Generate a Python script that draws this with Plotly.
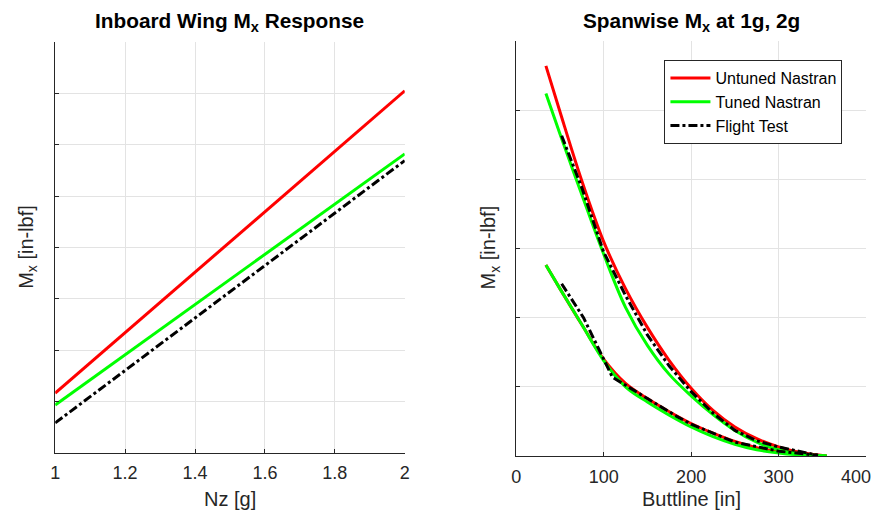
import plotly.graph_objects as go

# ---------------- data ----------------
nz = [1.0, 2.0]
mx_untuned_nz = [1.16, 7.05]
mx_tuned_nz = [0.93, 5.82]
mx_flight_nz = [0.58, 5.69]

bl_model = [34, 50, 75, 100, 125, 150, 175, 200, 225, 250, 275, 300, 325, 355]
mx_untuned_2g = [5.64, 4.98, 3.98, 3.10, 2.42, 1.86, 1.38, 0.98, 0.66, 0.42, 0.25, 0.13, 0.05, 0.0]
mx_tuned_2g = [5.24, 4.66, 3.78, 2.92, 2.15, 1.60, 1.18, 0.87, 0.60, 0.37, 0.20, 0.09, 0.03, 0.0]
mx_untuned_1g = [2.76, 2.42, 1.90, 1.40, 1.05, 0.83, 0.64, 0.47, 0.33, 0.21, 0.12, 0.06, 0.02, 0.0]
mx_tuned_1g = [2.76, 2.42, 1.90, 1.38, 1.00, 0.78, 0.59, 0.42, 0.28, 0.17, 0.09, 0.045, 0.015, 0.0]

bl_flight_2g = [52, 75, 100, 125, 150, 175, 200, 225, 250, 275, 300, 325, 345]
mx_flight_2g = [4.63, 3.88, 2.95, 2.32, 1.75, 1.30, 0.93, 0.62, 0.37, 0.22, 0.13, 0.06, 0.01]
bl_flight_1g = [52, 77, 110, 125, 150, 184, 200, 250, 300, 345]
mx_flight_1g = [2.49, 2.00, 1.14, 1.02, 0.83, 0.57, 0.46, 0.20, 0.07, 0.01]

left_xticks = [1, 1.2, 1.4, 1.6, 1.8, 2]
left_xticklabels = ["1", "1.2", "1.4", "1.6", "1.8", "2"]
right_xticks = [0, 100, 200, 300, 400]
right_xticklabels = ["0", "100", "200", "300", "400"]

series_names = ["Untuned Nastran", "Tuned Nastran", "Flight Test"]

# ---------------- style ----------------
RED = "#ff0000"
GREEN = "#00ff00"
BLACK = "#000000"
DASHDOT = "9px,3px,3px,3px"
LW = 3
AX = "#262626"
GRID = "#e3e3e3"
FONT = "Liberation Sans, Arial, Helvetica, sans-serif"

fig = go.Figure()

# left plot
fig.add_trace(go.Scatter(x=nz, y=mx_untuned_nz, mode="lines", line=dict(color=RED, width=LW),
                         name=series_names[0], showlegend=False, xaxis="x", yaxis="y"))
fig.add_trace(go.Scatter(x=nz, y=mx_tuned_nz, mode="lines", line=dict(color=GREEN, width=LW),
                         name=series_names[1], showlegend=False, xaxis="x", yaxis="y"))
fig.add_trace(go.Scatter(x=nz, y=mx_flight_nz, mode="lines", line=dict(color=BLACK, width=LW, dash=DASHDOT),
                         name=series_names[2], showlegend=False, xaxis="x", yaxis="y"))

# right plot
fig.add_trace(go.Scatter(x=bl_model, y=mx_untuned_2g, mode="lines", line=dict(color=RED, width=LW, shape="spline"),
                         name=series_names[0], legendgroup="a", showlegend=True, xaxis="x2", yaxis="y2"))
fig.add_trace(go.Scatter(x=bl_model, y=mx_untuned_1g, mode="lines", line=dict(color=RED, width=LW, shape="spline"),
                         name=series_names[0], legendgroup="a", showlegend=False, xaxis="x2", yaxis="y2"))
fig.add_trace(go.Scatter(x=bl_model, y=mx_tuned_2g, mode="lines", line=dict(color=GREEN, width=LW, shape="spline"),
                         name=series_names[1], legendgroup="b", showlegend=True, xaxis="x2", yaxis="y2"))
fig.add_trace(go.Scatter(x=bl_model, y=mx_tuned_1g, mode="lines", line=dict(color=GREEN, width=LW, shape="spline"),
                         name=series_names[1], legendgroup="b", showlegend=False, xaxis="x2", yaxis="y2"))
fig.add_trace(go.Scatter(x=bl_flight_2g, y=mx_flight_2g, mode="lines", line=dict(color=BLACK, width=LW, dash=DASHDOT),
                         name=series_names[2], legendgroup="c", showlegend=True, xaxis="x2", yaxis="y2"))
fig.add_trace(go.Scatter(x=bl_flight_1g, y=mx_flight_1g, mode="lines", line=dict(color=BLACK, width=LW, dash=DASHDOT),
                         name=series_names[2], legendgroup="c", showlegend=False, xaxis="x2", yaxis="y2"))

# the page puts the figure 8px in from the top-left corner; keep it inside the window
OFF = 8
W, H = 888 - 2 * OFF, 518 - 2 * OFF

def px_x(p):
    return (p - OFF) / W

def px_y(p):
    return 1 - (p - OFF) / H

axis_common = dict(showline=True, linecolor=AX, linewidth=1, mirror=False,
                   ticks="inside", ticklen=4, tickcolor=AX, tickwidth=1,
                   showgrid=True, gridcolor=GRID, gridwidth=1, zeroline=False,
                   ticklabelstandoff=4,
                   tickfont=dict(family=FONT, size=18, color=AX))

# last right-hand tick label would run past the page edge: drawn as an annotation instead
right_axis_ticktext = right_xticklabels[:-1] + [""]

fig.update_layout(
    width=W, height=H,
    margin=dict(l=0, r=0, t=0, b=0),
    paper_bgcolor="white", plot_bgcolor="white",
    font=dict(family=FONT, color=AX),
    xaxis=dict(domain=[px_x(50.7), px_x(404.3)], range=[1, 2], tickvals=left_xticks,
               ticktext=left_xticklabels, anchor="y", **axis_common),
    yaxis=dict(domain=[px_y(452.7), px_y(42)], range=[0, 8], tickvals=list(range(0, 9)),
               showticklabels=False, anchor="x", **axis_common),
    xaxis2=dict(domain=[px_x(517), px_x(871)], range=[0, 400], tickvals=right_xticks,
                ticktext=right_axis_ticktext, anchor="y2", **axis_common),
    yaxis2=dict(domain=[px_y(456), px_y(41)], range=[0, 6], tickvals=list(range(0, 7)),
                showticklabels=False, anchor="x2", **axis_common),
    legend=dict(x=px_x(667), y=px_y(60), xanchor="left", yanchor="top",
                bgcolor="white", bordercolor=AX, borderwidth=1, itemwidth=40,
                font=dict(family=FONT, size=16, color=BLACK), tracegroupgap=0),
    showlegend=True,
)

annotations = [
    dict(text="<b>Inboard Wing M<sub>x</sub> Response</b>", x=px_x(227.5), y=px_y(22),
         xref="paper", yref="paper", showarrow=False, xanchor="center", yanchor="middle",
         font=dict(family=FONT, size=20.8, color=BLACK)),
    dict(text="<b>Spanwise M<sub>x</sub> at 1g, 2g</b>", x=px_x(694), y=px_y(22),
         xref="paper", yref="paper", showarrow=False, xanchor="center", yanchor="middle",
         font=dict(family=FONT, size=20.8, color=BLACK)),
    dict(text="Nz [g]", x=px_x(227.5), y=px_y(499), xref="paper", yref="paper", showarrow=False,
         xanchor="center", yanchor="middle", font=dict(family=FONT, size=20, color=AX)),
    dict(text="Buttline [in]", x=px_x(694), y=px_y(499), xref="paper", yref="paper", showarrow=False,
         xanchor="center", yanchor="middle", font=dict(family=FONT, size=20, color=AX)),
    dict(text="M<sub>x</sub> [in-lbf]", x=px_x(22), y=px_y(247), xref="paper", yref="paper",
         showarrow=False, textangle=-90, xanchor="center", yanchor="middle",
         font=dict(family=FONT, size=20, color=AX)),
    dict(text="M<sub>x</sub> [in-lbf]", x=px_x(490), y=px_y(247), xref="paper", yref="paper",
         showarrow=False, textangle=-90, xanchor="center", yanchor="middle",
         font=dict(family=FONT, size=20, color=AX)),
    dict(text=right_xticklabels[-1], x=right_xticks[-1], xref="x2", y=px_y(477), yref="paper",
         showarrow=False, xanchor="right", yanchor="middle", xshift=7,
         font=dict(family=FONT, size=18, color=AX)),
]
fig.update_layout(annotations=annotations)

fig.write_html("out.html", config={"displayModeBar": False})
